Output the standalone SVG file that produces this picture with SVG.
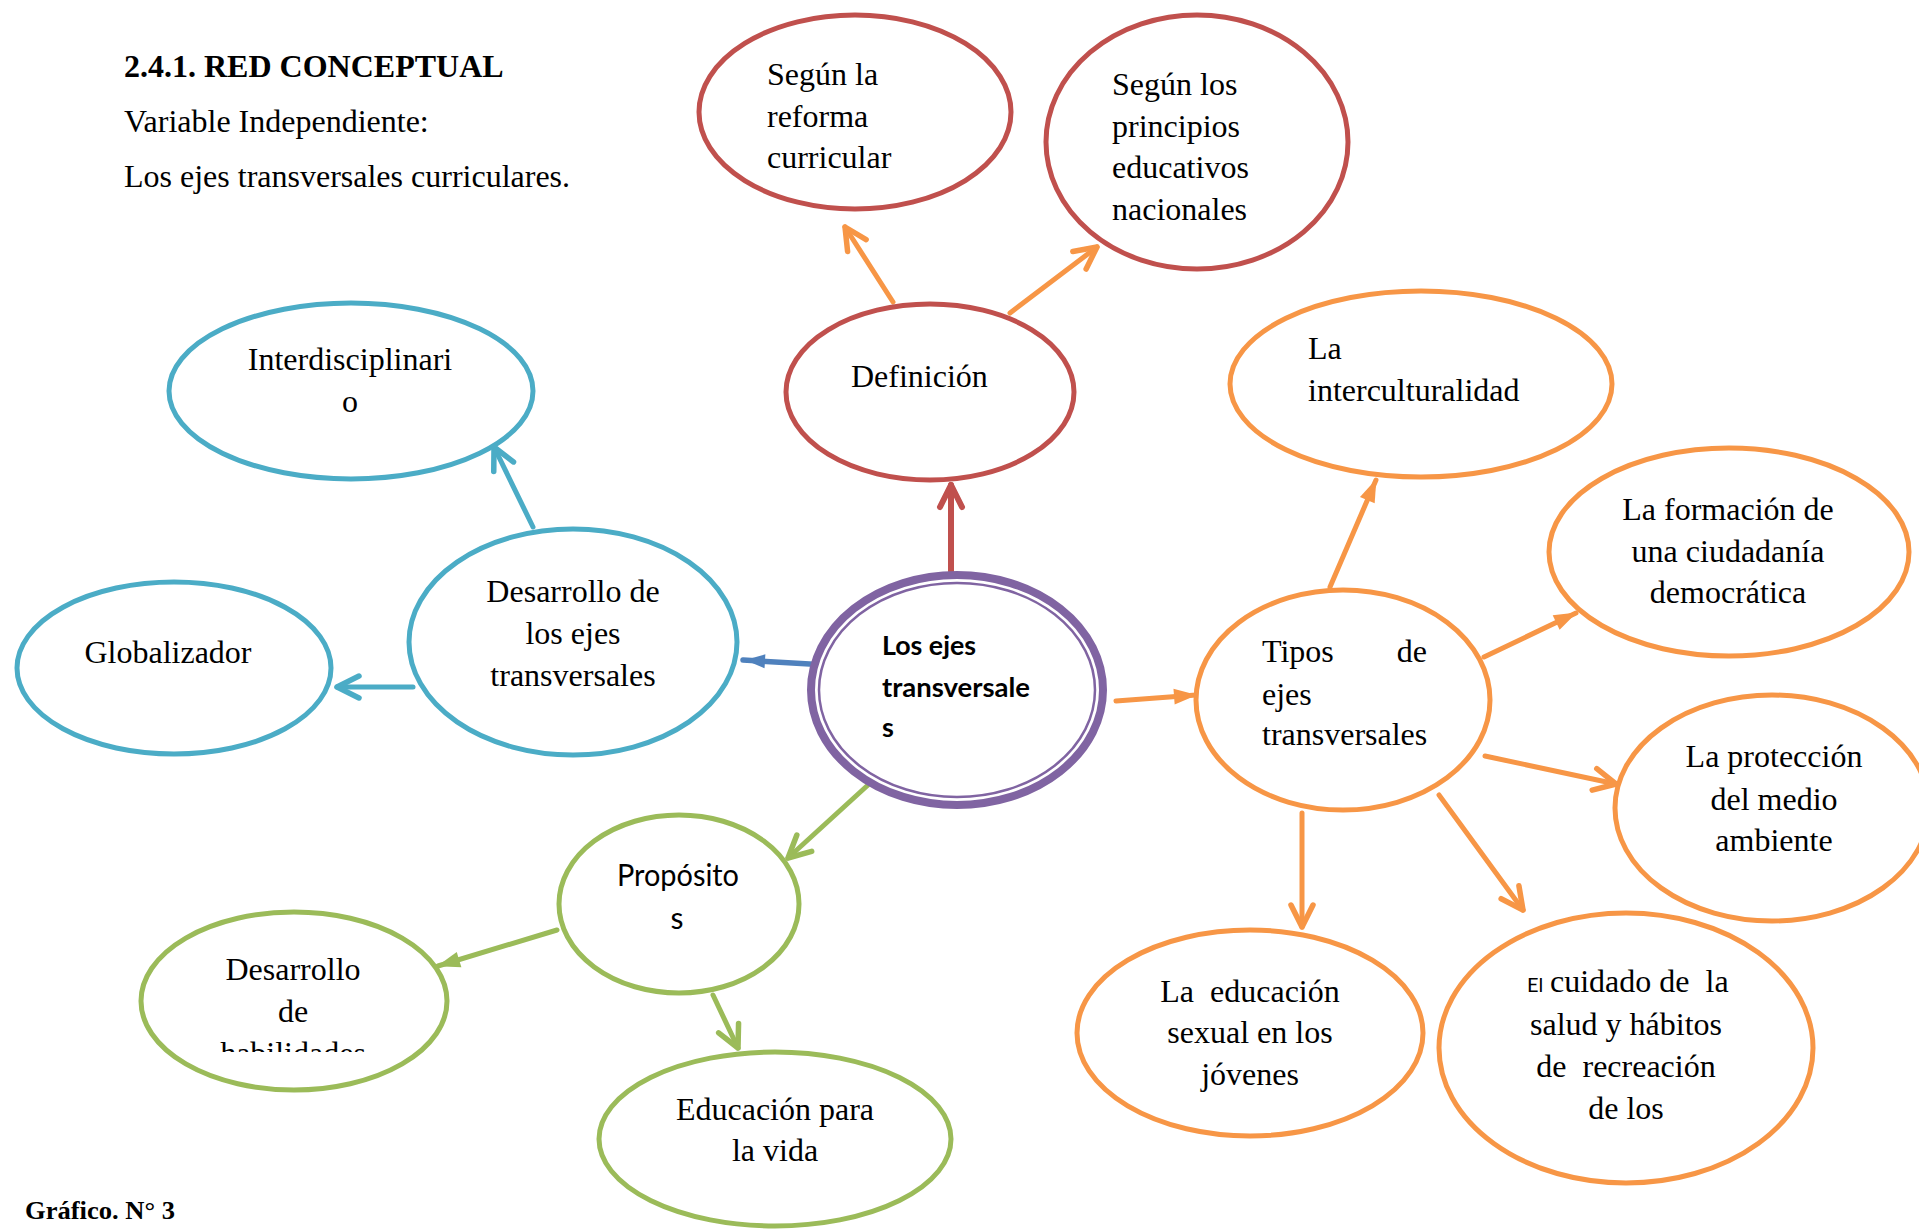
<svg xmlns="http://www.w3.org/2000/svg" width="1919" height="1231" viewBox="0 0 1919 1231">
<style>
.t{font-family:"Liberation Serif","Times New Roman",serif;font-size:32px;fill:#000}
.c{font-family:Lato,"Open Sans",sans-serif;fill:#000}
.b{font-weight:bold}
.m{text-anchor:middle}
.n{fill:#fff;stroke-width:5}
.red{stroke:#C0504D}.org{stroke:#F79646}.teal{stroke:#4BACC6}.grn{stroke:#9BBB59}
.ln{fill:none;stroke-width:5;stroke-linecap:round}
</style>
<defs>
<marker id="chO" markerUnits="userSpaceOnUse" viewBox="0 0 30 30" refX="25" refY="15" markerWidth="30" markerHeight="30" orient="auto" overflow="visible"><path d="M3,4 L25,15 L3,26" fill="none" stroke="#F79646" stroke-width="5.5" stroke-linecap="round" stroke-linejoin="round"/></marker>
<marker id="chR" markerUnits="userSpaceOnUse" viewBox="0 0 30 30" refX="25" refY="15" markerWidth="30" markerHeight="30" orient="auto" overflow="visible"><path d="M3,4 L25,15 L3,26" fill="none" stroke="#C0504D" stroke-width="6" stroke-linecap="round" stroke-linejoin="round"/></marker>
<marker id="chT" markerUnits="userSpaceOnUse" viewBox="0 0 30 30" refX="25" refY="15" markerWidth="30" markerHeight="30" orient="auto" overflow="visible"><path d="M3,4 L25,15 L3,26" fill="none" stroke="#4BACC6" stroke-width="5.5" stroke-linecap="round" stroke-linejoin="round"/></marker>
<marker id="chG" markerUnits="userSpaceOnUse" viewBox="0 0 30 30" refX="25" refY="15" markerWidth="30" markerHeight="30" orient="auto" overflow="visible"><path d="M3,4 L25,15 L3,26" fill="none" stroke="#9BBB59" stroke-width="5.5" stroke-linecap="round" stroke-linejoin="round"/></marker>
<marker id="trO" markerUnits="userSpaceOnUse" viewBox="0 0 24 18" refX="22" refY="9" markerWidth="24" markerHeight="18" orient="auto" overflow="visible"><path d="M0,1 L23,9 L0,17 Z" fill="#F79646"/></marker>
<marker id="trB" markerUnits="userSpaceOnUse" viewBox="0 0 24 18" refX="22" refY="9" markerWidth="24" markerHeight="18" orient="auto" overflow="visible"><path d="M0,2 L20,9 L0,16 Z" fill="#4F81BD"/></marker>
<marker id="trG" markerUnits="userSpaceOnUse" viewBox="0 0 24 18" refX="22" refY="9" markerWidth="24" markerHeight="18" orient="auto" overflow="visible"><path d="M0,1 L23,9 L0,17 Z" fill="#9BBB59"/></marker>
<clipPath id="clipHab"><rect x="130" y="900" width="330" height="152"/></clipPath>
</defs>
<rect width="1919" height="1231" fill="#fff"/>

<g id="header">
<text class="t b" x="124" y="77">2.4.1. RED CONCEPTUAL</text>
<text class="t" x="124" y="132">Variable Independiente:</text>
<text class="t" x="124" y="187">Los ejes transversales curriculares.</text>
<text class="t b" x="25" y="1219" style="font-size:25px" textLength="150" lengthAdjust="spacingAndGlyphs">Gráfico. N° 3</text>
</g>

<g id="connectors">
<line class="ln org" x1="893" y1="302" x2="845" y2="227" marker-end="url(#chO)"/>
<line class="ln org" x1="1010" y1="313" x2="1097" y2="247" marker-end="url(#chO)"/>
<line class="ln red" style="stroke-width:6" x1="951" y1="571" x2="951" y2="485" marker-end="url(#chR)"/>
<line class="ln" style="stroke:#4F81BD;stroke-width:5.5" x1="827" y1="665" x2="743" y2="660" marker-end="url(#trB)"/>
<line class="ln teal" x1="533" y1="527" x2="494" y2="447" marker-end="url(#chT)"/>
<line class="ln teal" x1="413" y1="687" x2="337" y2="687" marker-end="url(#chT)"/>
<line class="ln grn" x1="868" y1="785" x2="788" y2="858" marker-end="url(#chG)"/>
<line class="ln grn" x1="713" y1="995" x2="738" y2="1048" marker-end="url(#chG)"/>
<line class="ln grn" x1="557" y1="930" x2="438" y2="966" marker-end="url(#trG)"/>
<line class="ln org" x1="1116" y1="701" x2="1196" y2="695" marker-end="url(#trO)"/>
<line class="ln org" x1="1330" y1="587" x2="1376" y2="480" marker-end="url(#trO)"/>
<line class="ln org" x1="1484" y1="657" x2="1576" y2="613" marker-end="url(#trO)"/>
<line class="ln org" x1="1485" y1="756" x2="1616" y2="784" marker-end="url(#chO)"/>
<line class="ln org" x1="1302" y1="813" x2="1302" y2="927" marker-end="url(#chO)"/>
<line class="ln org" x1="1439" y1="795" x2="1523" y2="910" marker-end="url(#chO)"/>
</g>

<g id="node-segun-reforma">
<ellipse class="n red" cx="855" cy="112" rx="156" ry="97"/>
<text class="t" x="767" y="85">Según la</text>
<text class="t" x="767" y="127">reforma</text>
<text class="t" x="767" y="168">curricular</text>
</g>

<g id="node-segun-principios">
<ellipse class="n red" cx="1197" cy="142" rx="151" ry="127"/>
<text class="t" x="1112" y="95">Según los</text>
<text class="t" x="1112" y="137">principios</text>
<text class="t" x="1112" y="178">educativos</text>
<text class="t" x="1112" y="220">nacionales</text>
</g>

<g id="node-definicion">
<ellipse class="n red" cx="930" cy="392" rx="144" ry="88"/>
<text class="t" x="851" y="387">Definición</text>
</g>

<g id="node-central">
<ellipse cx="957" cy="690" rx="146" ry="115" fill="#fff" stroke="#8064A2" stroke-width="8"/>
<ellipse cx="957" cy="690" rx="138" ry="107" fill="none" stroke="#8064A2" stroke-width="2.5"/>
<text class="c b" x="882" y="655" style="font-size:27px" textLength="94" lengthAdjust="spacingAndGlyphs">Los ejes</text>
<text class="c b" x="882" y="697" style="font-size:27px" textLength="148" lengthAdjust="spacingAndGlyphs">transversale</text>
<text class="c b" x="882" y="737" style="font-size:27px">s</text>
</g>

<g id="node-interdisciplinario">
<ellipse class="n teal" cx="351" cy="391" rx="182" ry="88"/>
<text class="t m" x="350" y="370">Interdisciplinari</text>
<text class="t m" x="350" y="412">o</text>
</g>

<g id="node-globalizador">
<ellipse class="n teal" cx="174" cy="668" rx="157" ry="86"/>
<text class="t m" x="168" y="663">Globalizador</text>
</g>

<g id="node-desarrollo-ejes">
<ellipse class="n teal" cx="573" cy="642" rx="164" ry="113"/>
<text class="t m" x="573" y="602">Desarrollo de</text>
<text class="t m" x="573" y="644">los ejes</text>
<text class="t m" x="573" y="686">transversales</text>
</g>

<g id="node-propositos">
<ellipse class="n grn" cx="679" cy="904" rx="120" ry="89"/>
<text class="c m" x="678" y="886" style="font-size:30px" textLength="122" lengthAdjust="spacingAndGlyphs">Propósito</text>
<text class="c m" x="677" y="929" style="font-size:30px">s</text>
</g>

<g id="node-habilidades">
<ellipse class="n grn" cx="294" cy="1001" rx="153" ry="89"/>
<text class="t m" x="293" y="980">Desarrollo</text>
<text class="t m" x="293" y="1022">de</text>
<text class="t m" x="293" y="1064" clip-path="url(#clipHab)">habilidades</text>
</g>

<g id="node-educacion-vida">
<ellipse class="n grn" cx="775" cy="1139" rx="176" ry="87"/>
<text class="t m" x="775" y="1120">Educación para</text>
<text class="t m" x="775" y="1161">la vida</text>
</g>

<g id="node-tipos">
<ellipse class="n org" cx="1343" cy="700" rx="147" ry="110"/>
<text class="t" x="1262" y="662">Tipos</text>
<text class="t" x="1427" y="662" text-anchor="end">de</text>
<text class="t" x="1262" y="705">ejes</text>
<text class="t" x="1262" y="745">transversales</text>
</g>

<g id="node-interculturalidad">
<ellipse class="n org" cx="1421" cy="384" rx="191" ry="93"/>
<text class="t" x="1308" y="359">La</text>
<text class="t" x="1308" y="401">interculturalidad</text>
</g>

<g id="node-ciudadania">
<ellipse class="n org" cx="1729" cy="552" rx="180" ry="104"/>
<text class="t m" x="1728" y="520">La formación de</text>
<text class="t m" x="1728" y="562">una ciudadanía</text>
<text class="t m" x="1728" y="603">democrática</text>
</g>

<g id="node-medio-ambiente">
<ellipse class="n org" cx="1772" cy="808" rx="157" ry="113"/>
<text class="t m" x="1774" y="767">La protección</text>
<text class="t m" x="1774" y="810">del medio</text>
<text class="t m" x="1774" y="851">ambiente</text>
</g>

<g id="node-educacion-sexual">
<ellipse class="n org" cx="1250" cy="1033" rx="173" ry="103"/>
<text class="t m" x="1250" y="1002" xml:space="preserve">La  educación</text>
<text class="t m" x="1250" y="1043">sexual en los</text>
<text class="t m" x="1250" y="1085">jóvenes</text>
</g>

<g id="node-salud">
<ellipse class="n org" cx="1626" cy="1048" rx="187" ry="135"/>
<text class="c" x="1527" y="992" style="font-size:20px">El</text>
<text class="t" x="1550" y="992" xml:space="preserve">cuidado de  la</text>
<text class="t m" x="1626" y="1035">salud y hábitos</text>
<text class="t m" x="1626" y="1077" xml:space="preserve">de  recreación</text>
<text class="t m" x="1626" y="1119">de los</text>
</g>
</svg>
